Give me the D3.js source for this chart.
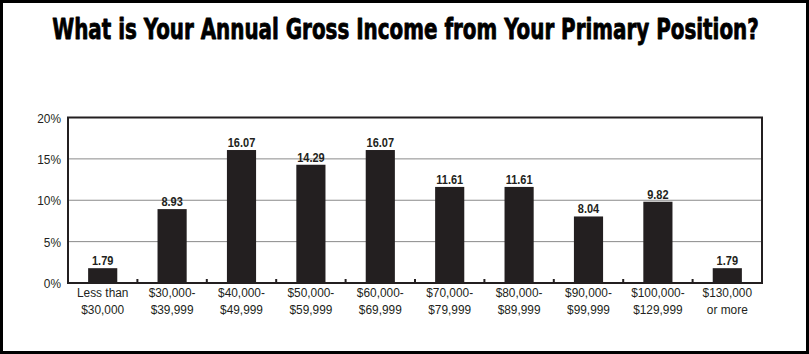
<!DOCTYPE html>
<html><head><meta charset="utf-8">
<script src="https://cdn.jsdelivr.net/npm/d3@7/dist/d3.min.js"></script>
<style>
html,body{margin:0;padding:0;background:#fff;}
svg{display:block;}
text{font-family:"Liberation Sans",Arial,Helvetica,sans-serif;}
</style></head>
<body>
<svg id="chart" width="809" height="354"></svg>
<script>
const title = "What is Your Annual Gross Income from Your Primary Position?";
const categories = [
  ["Less than","$30,000"],
  ["$30,000-","$39,999"],
  ["$40,000-","$49,999"],
  ["$50,000-","$59,999"],
  ["$60,000-","$69,999"],
  ["$70,000-","$79,999"],
  ["$80,000-","$89,999"],
  ["$90,000-","$99,999"],
  ["$100,000-","$129,999"],
  ["$130,000","or more"]
];
const values = [1.79, 8.93, 16.07, 14.29, 16.07, 11.61, 11.61, 8.04, 9.82, 1.79];
const yTicks = [0, 5, 10, 15, 20];

const svg = d3.select("#chart");
const W = 809, H = 354;
const m = {left: 68, right: 809-762, top: 117.5, bottom: 354-283};
const iw = W - m.left - m.right, ih = H - m.top - m.bottom;
const ink = "#231f20";
const SX = 0.88;

// outer border
svg.append("rect").attr("x",1.5).attr("y",1.5).attr("width",W-3).attr("height",H-3)
  .attr("fill","#fff").attr("stroke","#000").attr("stroke-width",3);

// title
const t = svg.append("text").attr("x", 0).attr("y", 0)
  .attr("text-anchor","middle")
  .style("font-family","'DejaVu Sans Condensed','DejaVu Sans',sans-serif")
  .style("font-weight","bold").style("font-size","28.5px").attr("fill","#000")
  .attr("stroke","#000").attr("stroke-width",0.8).attr("stroke-linejoin","round")
  .text(title);
const tw = t.node().getComputedTextLength();
t.attr("transform", `translate(${W/2+1},38.5) scale(${707/tw},1)`);

const g = svg.append("g").attr("transform", `translate(${m.left},${m.top})`);
const x = d3.scaleBand().domain(d3.range(categories.length)).range([0, iw]).paddingInner(0.58).paddingOuter(0.29);
const y = d3.scaleLinear().domain([0, 20]).range([ih, 0]);

// gridlines
g.append("g").selectAll("line").data(yTicks.filter(d=>d>0 && d<20)).join("line")
  .attr("x1",0).attr("x2",iw).attr("y1",d=>y(d)).attr("y2",d=>y(d))
  .attr("stroke","#8a8a8a").attr("stroke-width",1);

// bars
g.append("g").selectAll("rect").data(values).join("rect")
  .attr("x",(d,i)=>x(i)).attr("width",x.bandwidth())
  .attr("y",d=>y(d)).attr("height",d=>ih - y(d)).attr("fill",ink);

// value labels
g.append("g").selectAll("text").data(values).join("text")
  .attr("transform",(d,i)=>`translate(${x(i)+x.bandwidth()/2},${y(d)-3}) scale(${SX},1)`)
  .attr("text-anchor","middle").style("font-weight","bold").style("font-size","12.5px")
  .attr("fill",ink).text(d=>d.toFixed(2));

// frame
g.append("rect").attr("x",0).attr("y",0).attr("width",iw).attr("height",ih)
  .attr("fill","none").attr("stroke",ink).attr("stroke-width",2);

// category boundary ticks
const step = x.step();
g.append("g").selectAll("line").data(d3.range(1, categories.length)).join("line")
  .attr("x1",d=>d*step).attr("x2",d=>d*step).attr("y1",ih).attr("y2",ih-4)
  .attr("stroke",ink).attr("stroke-width",2);

// y axis labels
const yAxis = d3.axisLeft(y).tickValues(yTicks).tickFormat(d=>d+"%").tickSize(0).tickPadding(0);
const ya = g.append("g").call(yAxis);
ya.select(".domain").remove();
ya.selectAll("text").attr("x",null).attr("dy",null)
  .attr("transform",`translate(-7,4.5) scale(${SX},1)`)
  .attr("text-anchor","end")
  .style("font-size","13.5px").style("font-family","'Liberation Sans',Arial,sans-serif").attr("fill",ink);

// x labels
const xl = g.append("g").attr("transform",`translate(0,${ih})`);
categories.forEach((c,i)=>{
  const cx = x(i)+x.bandwidth()/2;
  c.forEach((line,j)=>{
    xl.append("text").attr("text-anchor","middle")
      .attr("transform",`translate(${cx},${14 + j*17}) scale(${SX},1)`)
      .style("font-size","13.5px").attr("fill",ink).text(line);
  });
});
</script>
</body></html>
